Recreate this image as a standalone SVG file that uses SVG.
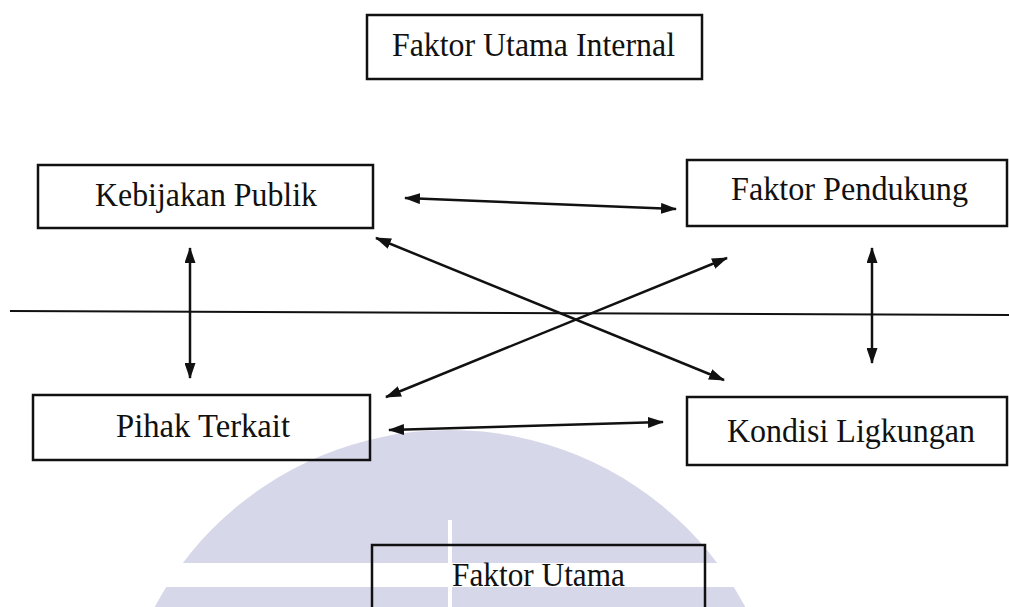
<svg xmlns="http://www.w3.org/2000/svg" width="1009" height="607" viewBox="0 0 1009 607">
  <style>
    .box { fill: none; stroke: #111; stroke-width: 2.5; }
    .lbl { font-family: "Liberation Serif", "Times New Roman", serif; font-size: 33px; fill: #111; }
    .conn { stroke: #111; stroke-width: 2.5; fill: none; marker-start: url(#ah); marker-end: url(#ah); }
  </style>
  <defs>
    <marker id="ah" viewBox="0 0 16 11" refX="15" refY="5.5" markerWidth="16" markerHeight="11" markerUnits="userSpaceOnUse" orient="auto-start-reverse">
      <path d="M0,0 L16,5.5 L0,11 Z" fill="#111"/>
    </marker>
    <clipPath id="wmclip">
      <rect x="0" y="0" width="1009" height="607"/>
    </clipPath>
  </defs>
  <rect width="1009" height="607" fill="#ffffff"/>

  <g id="watermark" clip-path="url(#wmclip)">
    <circle cx="450" cy="765" r="335" fill="#d7d7ea"/>
    <rect x="0" y="563" width="1009" height="24" fill="#ffffff"/>
    <rect x="448" y="520" width="4" height="87" fill="#ffffff"/>
  </g>

  <line id="divider" x1="10" y1="311" x2="1009" y2="315" stroke="#111" stroke-width="2"/>

  <g id="faktor-utama-internal">
    <rect class="box" x="367" y="15" width="335" height="64"/>
    <text class="lbl" x="392" y="56" textLength="283" lengthAdjust="spacingAndGlyphs">Faktor Utama Internal</text>
  </g>

  <g id="kebijakan-publik">
    <rect class="box" x="38" y="165" width="335" height="63"/>
    <text class="lbl" x="95" y="206" textLength="222" lengthAdjust="spacingAndGlyphs">Kebijakan Publik</text>
  </g>

  <g id="faktor-pendukung">
    <rect class="box" x="687" y="160" width="320" height="66"/>
    <text class="lbl" x="731" y="200" textLength="237" lengthAdjust="spacingAndGlyphs">Faktor Pendukung</text>
  </g>

  <g id="pihak-terkait">
    <rect class="box" x="33" y="395" width="337" height="65"/>
    <text class="lbl" x="116" y="437" textLength="174" lengthAdjust="spacingAndGlyphs">Pihak Terkait</text>
  </g>

  <g id="kondisi-ligkungan">
    <rect class="box" x="687" y="397" width="320" height="68"/>
    <text class="lbl" x="727" y="442" textLength="248" lengthAdjust="spacingAndGlyphs">Kondisi Ligkungan</text>
  </g>

  <g id="faktor-utama">
    <rect class="box" x="372" y="545" width="333" height="80"/>
    <text class="lbl" x="452" y="586" textLength="173" lengthAdjust="spacingAndGlyphs">Faktor Utama</text>
  </g>

  <g id="connectors">
    <line class="conn" x1="405" y1="198" x2="676" y2="209"/>
    <line class="conn" x1="190" y1="248" x2="190" y2="378"/>
    <line class="conn" x1="376" y1="238" x2="724" y2="380"/>
    <line class="conn" x1="727" y1="258" x2="386" y2="397"/>
    <line class="conn" x1="872" y1="248" x2="872" y2="363"/>
    <line class="conn" x1="389" y1="430" x2="663" y2="422"/>
  </g>
</svg>
